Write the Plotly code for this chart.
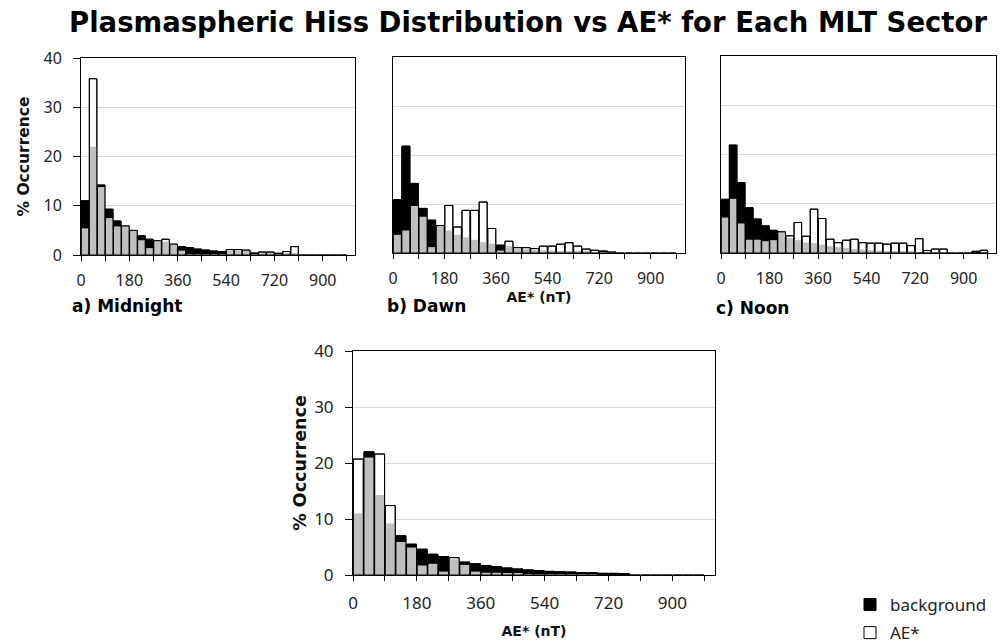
import plotly.graph_objects as go

# ---------------- data ----------------
bin_start = [0, 30, 60, 90, 120, 150, 180, 210, 240, 270, 300, 330, 360, 390, 420, 450,
             480, 510, 540, 570, 600, 630, 660, 690, 720, 750, 780, 810, 840, 870, 900, 930, 960]

midnight_bg = [11.0, 22.0, 14.2, 9.3, 6.9, 5.8, 4.9, 3.9, 3.2, 2.9, 2.7, 2.2, 1.7, 1.5, 1.2, 1.0,
               0.8, 0.7, 0.9, 0.9, 0.9, 0.4, 0.4, 0.4, 0.35, 0.3, 0.3, 0, 0, 0, 0, 0, 0]
midnight_ae = [5.4, 35.8, 13.8, 7.5, 5.8, 5.9, 5.0, 3.0, 1.4, 2.9, 3.2, 2.2, 0.9, 0.2, 0.1, 0.1,
               0.1, 0.1, 1.1, 1.1, 1.0, 0.1, 0.6, 0.6, 0.1, 0.7, 1.7, 0, 0, 0, 0, 0, 0]

dawn_bg = [10.9, 21.8, 14.2, 9.1, 6.7, 5.6, 4.6, 3.7, 3.2, 2.7, 2.2, 1.9, 1.6, 1.4, 0.9, 0.8,
           0.6, 0.5, 0.5, 0.4, 0.4, 0.3, 0.3, 0.2, 0.4, 0.2, 0, 0, 0, 0, 0, 0, 0]
dawn_ae = [3.7, 4.6, 9.6, 7.4, 1.2, 5.6, 9.7, 5.3, 8.7, 8.7, 10.4, 5.0, 0.5, 2.4, 1.1, 1.1,
           0.9, 1.4, 1.4, 1.8, 2.1, 1.4, 0.8, 0.55, 0.1, 0.1, 0, 0, 0, 0, 0, 0, 0]

noon_bg = [10.9, 21.9, 14.3, 9.2, 6.9, 5.5, 4.6, 4.1, 3.0, 2.6, 2.1, 2.0, 1.7, 1.4, 1.2, 1.0,
           0.8, 0.7, 0.6, 0.5, 0.4, 0.4, 0.3, 0.3, 0.2, 0.2, 0.1, 0.1, 0, 0, 0, 0.35, 0]
noon_ae = [7.2, 11.0, 6.0, 2.7, 2.7, 2.4, 2.6, 4.3, 3.5, 6.2, 3.4, 8.9, 7.0, 2.8, 2.1, 2.6,
           2.8, 2.1, 2.0, 2.0, 1.8, 2.0, 2.0, 1.5, 2.9, 0.5, 0.8, 0.8, 0, 0, 0, 0, 0.55]

all_bg = [11.0, 22.0, 14.3, 9.2, 7.0, 5.5, 4.6, 3.7, 3.3, 2.8, 2.3, 2.0, 1.7, 1.5, 1.25, 1.07,
          0.9, 0.77, 0.65, 0.6, 0.53, 0.42, 0.42, 0.3, 0.3, 0.24, 0, 0, 0, 0, 0, 0, 0]
all_ae = [20.7, 21.0, 21.6, 12.4, 5.9, 4.9, 1.7, 2.0, 0.6, 3.1, 1.8, 0.6, 0.4, 0.4, 0.2, 0.2,
          0.1, 0.1, 0.1, 0.1, 0.1, 0.05, 0.05, 0, 0, 0, 0, 0, 0, 0, 0, 0, 0]

x_tick_vals = [0, 90, 180, 270, 360, 450, 540, 630, 720, 810, 900, 990]
x_tick_text = ["0", "", "180", "", "360", "", "540", "", "720", "", "900", ""]
y_tick_vals = [0, 10, 20, 30, 40]

panel_labels = ["a) Midnight", "b) Dawn", "c) Noon"]

W, H = 1003, 644
GRAY = "#bfbfbf"
TICKFONT = "Noto Sans, Open Sans, sans-serif"
BOLDFONT = "DejaVu Sans, Verdana, sans-serif"

# pixel boxes of the plot areas: (left, right, top, bottom)
boxes = [(81, 355, 58, 255), (393, 685, 57, 253), (721, 996, 56, 253), (353, 715, 351, 575)]

fig = go.Figure()
series = [(midnight_bg, midnight_ae), (dawn_bg, dawn_ae), (noon_bg, noon_ae), (all_bg, all_ae)]

BW, OFF = 28, 1
for i, (bg, ae) in enumerate(series):
    sfx = "" if i == 0 else str(i + 1)
    xa, ya = "x" + sfx, "y" + sfx
    lo = [min(b, a) for b, a in zip(bg, ae)]
    hi = [max(b, a) for b, a in zip(bg, ae)]
    blk = [b if b > a else None for b, a in zip(bg, ae)]
    wht = [a if a >= b and a > 0 else None for b, a in zip(bg, ae)]
    common = dict(x=bin_start, offset=OFF, width=BW, xaxis=xa, yaxis=ya, hoverinfo="skip")
    fig.add_trace(go.Bar(y=blk, name="background", showlegend=(i == 0), legendgroup="bg",
                         marker=dict(color="black", line=dict(color="black", width=1)), **common))
    fig.add_trace(go.Bar(y=wht, name="AE*", showlegend=(i == 0), legendgroup="ae",
                         marker=dict(color="white", line=dict(color="black", width=1)), **common))
    fig.add_trace(go.Bar(y=lo, showlegend=False,
                         marker=dict(color=GRAY, line=dict(width=0)), **common))
    fig.add_trace(go.Bar(y=hi, showlegend=False,
                         marker=dict(color="rgba(0,0,0,0)", line=dict(color="black", width=1)), **common))

layout = dict(width=W, height=H, margin=dict(l=0, r=0, t=0, b=0, autoexpand=False),
              paper_bgcolor="white", plot_bgcolor="white", barmode="overlay",
              showlegend=True)

for i, (l, r, t, b) in enumerate(boxes):
    sfx = "" if i == 0 else str(i + 1)
    big = (i == 3)
    fs = 17 if big else 16
    xax = dict(domain=[l / W, r / W], anchor="y" + sfx, range=[0, 1020], automargin=False,
               tickvals=x_tick_vals, ticktext=x_tick_text, ticks="outside", ticklen=5,
               tickcolor="black", tickwidth=1, showline=True, linecolor="black", linewidth=1,
               mirror=True, showgrid=False, zeroline=False,
               tickfont=dict(family=TICKFONT, size=fs, color="#222"),
               ticklabelstandoff=(8 if big else 6))
    yax = dict(domain=[1 - b / H, 1 - t / H], anchor="x" + sfx, range=[0, 40], automargin=False,
               tickvals=y_tick_vals, showline=True, linecolor="black", linewidth=1, mirror=True,
               showgrid=True, gridcolor="#d9d9d9", gridwidth=1, zeroline=False,
               tickfont=dict(family=TICKFONT, size=fs, color="#222"))
    if i in (0, 3):
        yax.update(ticks="outside", ticklen=7, tickcolor="black", showticklabels=True,
                   ticklabelstandoff=8,
                   title=dict(text="<b>% Occurrence</b>", standoff=(3 if big else 10),
                              font=dict(family=BOLDFONT, size=(17.5 if big else 15.5), color="#111")))
    else:
        yax.update(ticks="", showticklabels=False)
    if i in (1, 3):
        xax.update(title=dict(text="<b>AE* (nT)</b>", standoff=(12 if big else 0),
                              font=dict(family=BOLDFONT, size=14, color="#111")))
    layout["xaxis" + sfx] = xax
    layout["yaxis" + sfx] = yax

annotations = [dict(text="<b>Plasmaspheric Hiss Distribution vs AE* for Each MLT Sector</b>",
                    x=528 / W, y=1 - 22 / H, xref="paper", yref="paper", showarrow=False,
                    xanchor="center", yanchor="middle",
                    font=dict(family=BOLDFONT, size=27.5, color="black"))]
label_pos = [(70, 306), (385, 306), (714, 308)]
for txt, (px, py) in zip(panel_labels, label_pos):
    annotations.append(dict(text="<b>" + txt + "</b>", x=px / W, y=1 - py / H, xref="paper",
                            yref="paper", showarrow=False, xanchor="left", yanchor="middle",
                            font=dict(family=BOLDFONT, size=17, color="black")))
layout["annotations"] = annotations
layout["legend"] = dict(x=850 / W, y=1 - 587 / H, xanchor="left", yanchor="top",
                        bgcolor="rgba(0,0,0,0)", tracegroupgap=3, itemwidth=30,
                        font=dict(family=TICKFONT, size=17, color="#222"))

fig.update_layout(**layout)
fig.write_html("out.html")
